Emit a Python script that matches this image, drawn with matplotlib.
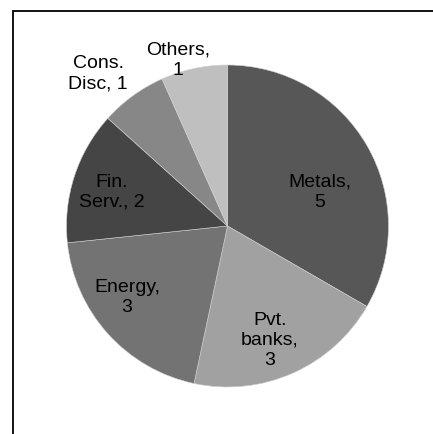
import matplotlib
matplotlib.use("Agg")
import matplotlib.pyplot as plt
from matplotlib.patches import Rectangle

plt.rcParams["font.family"] = ["Liberation Sans", "DejaVu Sans"]

# sector holdings
sectors = ["Metals", "Pvt. banks", "Energy", "Fin. Serv.", "Cons. Disc", "Others"]
counts = [5, 3, 3, 2, 1, 1]
label_text = ["Metals,\n5", "Pvt.\nbanks,\n3", "Energy,\n3", "Fin.\nServ., 2", "Cons.\nDisc, 1", "Others,\n1"]
colors = ["#575757", "#a1a1a1", "#737373", "#454545", "#878787", "#bfbfbf"]

# label centres, in units of the pie radius
label_pos = [(0.575, 0.21), (0.264, -0.71), (-0.624, -0.445), (-0.717, 0.21), (-0.804, 0.945), (-0.307, 1.03)]

W, H = 433, 434
fig = plt.figure(figsize=(W / 100, H / 100), dpi=100)

# outer frame, running off the right and bottom edges
fig.patches.append(Rectangle((12.5 / W, -0.1), 1.2, 1 - 11 / H + 0.1, transform=fig.transFigure,
                             fill=False, edgecolor="black", linewidth=1.3))

cx, cy, r = 227.5, 226, 161
ax = fig.add_axes([(cx - r) / W, (H - cy - r) / H, 2 * r / W, 2 * r / H])
ax.pie(counts, labels=None, colors=colors, startangle=90, counterclock=False, radius=1,
       wedgeprops=dict(edgecolor="#d0d0d0", linewidth=0.4))
for txt, (x, y) in zip(label_text, label_pos):
    ax.text(x, y, txt, ha="center", va="center", fontsize=14, linespacing=1.25, color="black")
ax.set_xlim(-1, 1)
ax.set_ylim(-1, 1)
ax.set_aspect("auto")
ax.axis("off")

fig.savefig("out.png", dpi=100)
